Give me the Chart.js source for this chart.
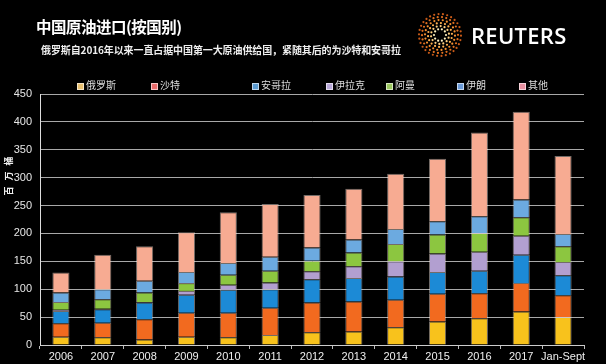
<!DOCTYPE html>
<html>
<head>
<meta charset="utf-8">
<script src="https://cdn.jsdelivr.net/npm/chart.js@4"></script>
<style>
html,body{margin:0;padding:0;background:#000;}
#wrap{position:relative;width:606px;height:364px;background:#000;overflow:hidden;font-family:"Liberation Sans","Noto Sans CJK SC",sans-serif;}
#chart{position:absolute;left:0;top:0;}
#title{position:absolute;left:36px;top:15px;color:#fff;font-size:15.5px;font-weight:bold;font-family:"Noto Sans CJK SC",sans-serif;letter-spacing:-0.5px;white-space:nowrap;}
#sub{position:absolute;left:41px;top:42px;color:#eee;font-size:10px;font-weight:bold;font-family:"Noto Sans CJK SC",sans-serif;white-space:nowrap;letter-spacing:-0.1px;}
#logo{position:absolute;left:417px;top:12px;}
#reuters{position:absolute;left:471px;top:21px;color:#fff;font-size:22px;font-weight:600;font-family:"Open Sans",sans-serif;letter-spacing:0.3px;line-height:28px;}
.lg{position:absolute;top:78px;height:14px;line-height:14px;color:#ddd;font-size:10px;font-family:"Noto Sans CJK SC",sans-serif;white-space:nowrap;}
.lg i{display:inline-block;width:5px;height:5px;margin-right:2px;vertical-align:middle;border:0.5px solid rgba(255,255,255,0.6);}
</style>
</head>
<body>
<div id="wrap">
  <canvas id="chart" width="606" height="364"></canvas>
  <div id="title">中国原油进口(按国别)</div>
  <div id="sub">俄罗斯自2016年以来一直占据中国第一大原油供给国，紧随其后的为沙特和安哥拉</div>
  <canvas id="logo" width="46" height="46"></canvas>
  <div id="reuters">REUTERS</div>
  <div id="legend"></div>
</div>
<script>
// ---- data ----
const categories = ['2006','2007','2008','2009','2010','2011','2012','2013','2014','2015','2016','2017','Jan-Sept'];
const seriesNames = ['俄罗斯','沙特','安哥拉','伊拉克','阿曼','伊朗','其他'];
const russia = [15,14,10,15,14,18,23,24,32,42,48,60,50];
const saudi  = [24,26,36,43,44,49,53,54,49,50,45,51,39];
const angola = [22,24,30,32,41,33,42,42,42,39,40,51,36];
const iraq   = [2,1,1,7,9,12,14,21,27,33,34,34,24];
const oman   = [14,17,17,14,18,21,19,25,31,34,34,33,28];
const iran   = [17,18,21,20,21,25,24,23,27,24,30,32,22];
const other  = [36,62,62,71,91,95,94,91,99,112,150,157,140];
const yTicks = [0,50,100,150,200,250,300,350,400,450];
const yTitle = '百万桶';

const seriesValues = [russia,saudi,angola,iraq,oman,iran,other];
const colors = ['#f8c21c','#f26a1f','#1c8ad6','#b29fd0','#8cc640','#6caae0','#f7ab92'];
const legendColors = ['#e8c070','#e86a6a','#5a9ad0','#b8a8d8','#9cc860','#6a9ad8','#e890a0'];
const legendX = [77,151,252,326,386,457,519];

// legend
const lg = document.getElementById('legend');
seriesNames.forEach((n,i)=>{
  const d=document.createElement('div');
  d.className='lg';
  d.style.left=legendX[i]+'px';
  d.innerHTML='<i style="background:'+legendColors[i]+'"></i>'+n;
  lg.appendChild(d);
});

// logo (decorative)
(function(){
  const c=document.getElementById('logo').getContext('2d');
  const cx=23,cy=23;
  const rings=[[6,10,'#fff2c0'],[9,14,'#ffd080'],[12,18,'#ffb050'],[15,22,'#f59030'],[18,26,'#e07020'],[21,30,'#c85a18']];
  rings.forEach(([r,n,col],k)=>{
    for(let j=0;j<n;j++){
      const a=j/n*Math.PI*2+k*0.3;
      c.beginPath();
      c.fillStyle=col;
      c.arc(cx+r*Math.cos(a),cy+r*Math.sin(a),1.1,0,Math.PI*2);
      c.fill();
    }
  });
})();

const yTitlePlugin = {
  id:'yTitle',
  afterDraw(chart){
    const ctx=chart.ctx;
    ctx.save();
    ctx.translate(9,176);
    ctx.rotate(-Math.PI/2);
    ctx.fillStyle='#eee';
    ctx.font='bold 9px "Noto Sans CJK SC"';
    ctx.textAlign='center';
    ctx.textBaseline='middle';
    const chars=[...yTitle];
    chars.forEach((ch,i)=>{
      ctx.fillText(ch,(i-(chars.length-1)/2)*15,0);
    });
    ctx.restore();
  }
};

new Chart(document.getElementById('chart'),{
  type:'bar',
  data:{
    labels:categories,
    datasets:seriesNames.map((n,i)=>({
      label:n,
      data:seriesValues[i],
      backgroundColor:colors[i],
      borderColor:'rgba(255,240,230,0.45)',
      borderWidth:1,
      barPercentage:0.41,
      categoryPercentage:1.0
    }))
  },
  options:{
    responsive:false,
    animation:false,
    layout:{padding:{top:94,right:22,left:0,bottom:0}},
    plugins:{legend:{display:false},tooltip:{enabled:false}},
    scales:{
      x:{
        stacked:true,
        afterFit(s){s.height=19;},
        grid:{drawOnChartArea:false,drawTicks:true,tickLength:4,color:'#bbb',offset:true},
        border:{display:true,color:'#ccc',width:1},
        ticks:{color:'#eee',font:{family:'"Liberation Sans"',size:11},padding:1,maxRotation:0,autoSkip:false}
      },
      y:{
        stacked:true,
        min:0,max:450,
        afterFit(s){s.width=40;},
        afterBuildTicks(s){s.ticks=yTicks.map(v=>({value:v}));},
        grid:{color:'#a8a8a8',lineWidth:1,drawTicks:false},
        border:{display:true,color:'#ddd',width:1},
        ticks:{color:'#e6e6e6',font:{family:'"Liberation Sans"',size:11},padding:8}
      }
    }
  },
  plugins:[yTitlePlugin]
});
</script>
</body>
</html>
